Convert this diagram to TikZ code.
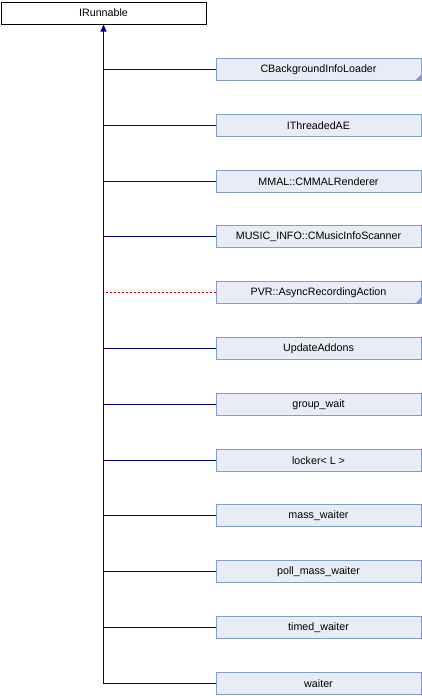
\documentclass[tikz,border=0pt]{standalone}
\usepackage{fontspec}
\setmainfont{Liberation Sans}
\usetikzlibrary{arrows.meta}
\definecolor{boxfill}{RGB}{232,236,245}
\definecolor{boxline}{RGB}{132,156,208}
\definecolor{edgeblue}{RGB}{0,0,150}
\definecolor{edgered}{RGB}{190,0,0}
\definecolor{cornergray}{RGB}{132,156,208}
\pgfdeclarelayer{background}
\pgfsetlayers{background,main}
\begin{document}
\begin{tikzpicture}[x=1pt,y=-1pt,
  base/.style={draw=black,fill=white,line width=1pt,minimum width=205pt,minimum height=22pt,inner sep=0pt,font=\fontsize{10.7}{13}\selectfont,anchor=north west},
  child/.style={draw=boxline,fill=boxfill,line width=1pt,minimum width=205pt,minimum height=22pt,inner sep=0pt,font=\fontsize{10.7}{13}\selectfont},
  inh/.style={draw=edgeblue,line width=1pt},
  inhp/.style={draw=edgered,line width=1pt,dash pattern=on 2pt off 2pt},
  corner/.style={fill=cornergray,draw=none}]
\useasboundingbox (0,0) rectangle (422,696);
\node[base] (b) at (0.5,1.5) {IRunnable};
\foreach \n/\t [count=\i from 0] in {c1/CBackgroundInfoLoader,c2/IThreadedAE,c3/MMAL::CMMALRenderer,c4/MUSIC\_INFO::CMusicInfoScanner,c5/PVR::AsyncRecordingAction,c6/UpdateAddons,c7/group\_wait,c8/locker< L >,c9/mass\_waiter,c10/poll\_mass\_waiter,c11/timed\_waiter,c12/waiter}{
  \pgfmathsetmacro{\yy}{round(69+55.8*\i)+0.5}
  \node[child] (\n) at (318.5,\yy) {\t};
}
\begin{pgfonlayer}{background}
\coordinate (bot) at (b.south |- c12.west);
\draw[inh,{Triangle[width=6pt,length=7pt]}-] (b.south) -- (bot);
\foreach \n in {c1,c2,c3,c4,c6,c7,c8,c9,c10,c11,c12}{
  \draw[inh] (\n.west) -- (\n.west -| b.south);
}
\draw[inhp] (c5.west) -- (c5.west -| b.south);
\end{pgfonlayer}
\foreach \n in {c1,c5}{
  \fill[corner] ([shift={(-0.5,-0.5)}]\n.south east) -- ++(0,-6) -- ++(-6,6) -- cycle;
}
\end{tikzpicture}
\end{document}
